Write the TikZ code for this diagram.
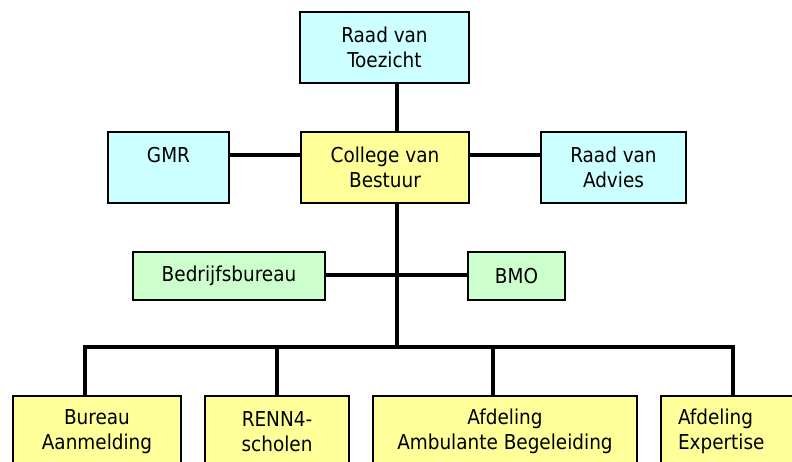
\documentclass[tikz,border=0pt]{standalone}
\usepackage{fontspec}
\setmainfont{DejaVu Sans Condensed}
\definecolor{boxcyan}{HTML}{CCFFFF}
\definecolor{boxyellow}{HTML}{FFFF99}
\definecolor{boxgreen}{HTML}{CCFFCC}
\tikzset{
  box/.style={draw=black, line width=1.6pt, align=center, inner sep=0pt,
    font=\fontsize{20.5}{24.5}\selectfont},
  cbox/.style={box, fill=boxcyan, minimum height=71pt},
  ybox/.style={box, fill=boxyellow, minimum height=71pt},
  gbox/.style={box, fill=boxgreen, minimum height=48pt},
  conn/.style={draw=black, line width=3.2pt}
}
\begin{document}
\begin{tikzpicture}[x=1pt,y=-1pt]
\useasboundingbox (0,0) rectangle (792,461);
\clip (0,0) rectangle (792,461);
% helper coordinates
\coordinate (sp) at (397,0);
\coordinate (hy) at (0,155);
\coordinate (gy) at (0,275);
\coordinate (bus) at (0,347);
\coordinate (d1) at (85,0);
\coordinate (d3) at (493,0);
\coordinate (d4) at (733,0);
% boxes
\node[cbox, minimum width=169pt] (rvt) at (384.5,47.5) {Raad van\\Toezicht};
\node[cbox, minimum width=121pt] (gmr) at (168.5,167.5) {GMR\\\mbox{}};
\node[ybox, minimum width=168pt] (cvb) at (385,167.5) {College van\\Bestuur};
\node[cbox, minimum width=145pt] (rva) at (613.5,167.5) {Raad van\\Advies};
\node[gbox, minimum width=192pt] (bb) at (229,276) {Bedrijfsbureau};
\node[gbox, minimum width=97pt] (bmo) at (516.5,276) {BMO};
\node[ybox, minimum width=168pt] (ba) at (97,431.5) {Bureau\\Aanmelding};
\node[ybox, minimum width=144pt] (rn) at (277,431.5) {RENN4-\\scholen};
\node[ybox, minimum width=264pt] (ab) at (505,431.5) {Afdeling\\Ambulante Begeleiding};
\node[ybox, align=left, inner xsep=17pt, text width=110pt] (ex) at (733,431.5) {Afdeling\\Expertise};
% connectors
\draw[conn] (rvt.south -| sp) -- (cvb.north -| sp);
\draw[conn] (gmr.east |- hy) -- (cvb.west |- hy);
\draw[conn] (cvb.east |- hy) -- (rva.west |- hy);
\draw[conn] (cvb.south -| sp) -- (sp |- bus);
\draw[conn] (bb.east |- gy) -- (bmo.west |- gy);
\draw[conn, line join=miter] (ba.north -| d1) -- (d1 |- bus) -- (d4 |- bus) -- (ex.north -| d4);
\draw[conn] (rn.north) -- (rn.north |- bus);
\draw[conn] (ab.north -| d3) -- (d3 |- bus);
\end{tikzpicture}
\end{document}
